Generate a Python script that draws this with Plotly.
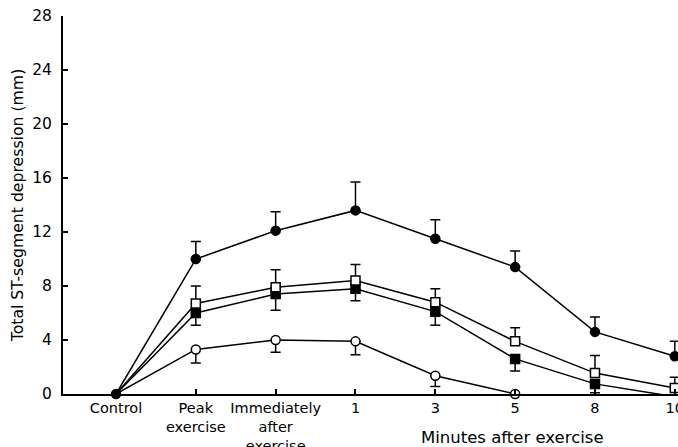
import plotly.graph_objects as go

categories = ["Control", "Peak<br>exercise", "Immediately<br>after<br>exercise", "1", "3", "5", "8", "10"]
x_idx = list(range(len(categories)))

# Filled circles (upper error bars)
fc_vals = [0, 10.0, 12.1, 13.6, 11.5, 9.4, 4.6, 2.8]
fc_err = [0, 1.3, 1.4, 2.1, 1.4, 1.2, 1.1, 1.1]
# Open squares (upper error bars)
os_vals = [0, 6.7, 7.9, 8.4, 6.8, 3.9, 1.55, 0.45]
os_err = [0, 1.3, 1.3, 1.2, 1.0, 1.0, 1.3, 0.8]
# Filled squares (lower error bars)
fs_vals = [0, 6.0, 7.4, 7.8, 6.1, 2.6, 0.75, -0.2]
fs_err = [0, 0.9, 1.2, 0.9, 1.0, 0.9, 0.65, 0]
# Open circles (lower error bars)
oc_vals = [0, 3.3, 4.0, 3.9, 1.35, 0]
oc_err = [0, 1.0, 0.9, 1.0, 0.8, 0]

y_ticks = [0, 4, 8, 12, 16, 20, 24, 28]

FONT = "DejaVu Sans"
fig = go.Figure()

def add(vals, err, symbol, fill, upper, show_first=False):
    n = len(vals)
    zeros = [0] * n
    sizes = [9] * n
    if not show_first:
        sizes[0] = 0
    fig.add_trace(go.Scatter(
        x=x_idx[:n], y=vals, mode="lines+markers",
        line=dict(color="black", width=1.5),
        marker=dict(symbol=symbol, size=sizes, opacity=1,
                    color=fill, line=dict(color="black", width=1.5)),
        error_y=dict(type="data", symmetric=False,
                     array=err if upper else zeros,
                     arrayminus=zeros if upper else err,
                     color="black", thickness=1.5, width=5),
        cliponaxis=False, showlegend=False))

add(oc_vals, oc_err, "circle", "white", False)
add(fs_vals, fs_err, "square", "black", False)
add(os_vals, os_err, "square", "white", True)
add(fc_vals, fc_err, "circle", "black", True, show_first=True)

fig.add_annotation(text="Minutes after exercise", xref="x", yref="paper",
                   x=4.97, y=-0.114, yanchor="middle", showarrow=False,
                   font=dict(family=FONT, size=16.5, color="black"))

fig.update_layout(
    width=678, height=447,
    margin=dict(l=63, r=0, t=16, b=53),
    paper_bgcolor="white", plot_bgcolor="white",
    font=dict(family=FONT, size=15, color="black"),
    xaxis=dict(range=[-0.664, 7.04], tickmode="array", tickvals=x_idx, ticktext=categories,
               automargin=False, ticklabeloverflow="allow",
               showgrid=False, zeroline=False, showline=True, linecolor="black", linewidth=2,
               ticks="inside", ticklen=5, tickwidth=1.5, tickcolor="black",
               tickfont=dict(family=FONT, size=14.5, color="black")),
    yaxis=dict(range=[0, 28], tickmode="array", tickvals=y_ticks,
               automargin=False, ticklabeloverflow="allow",
               showgrid=False, zeroline=False, showline=True, linecolor="black", linewidth=2,
               ticks="inside", ticklen=5, tickwidth=1.5, tickcolor="black",
               ticklabelstandoff=6,
               tickfont=dict(family=FONT, size=15.5, color="black"),
               title=dict(text="Total ST-segment depression (mm)", standoff=5,
                          font=dict(family=FONT, size=15.7, color="black"))),
)

fig.write_html("out.html", config={"displayModeBar": False},
               post_script="document.body.style.margin='0';document.body.style.overflow='hidden';")
